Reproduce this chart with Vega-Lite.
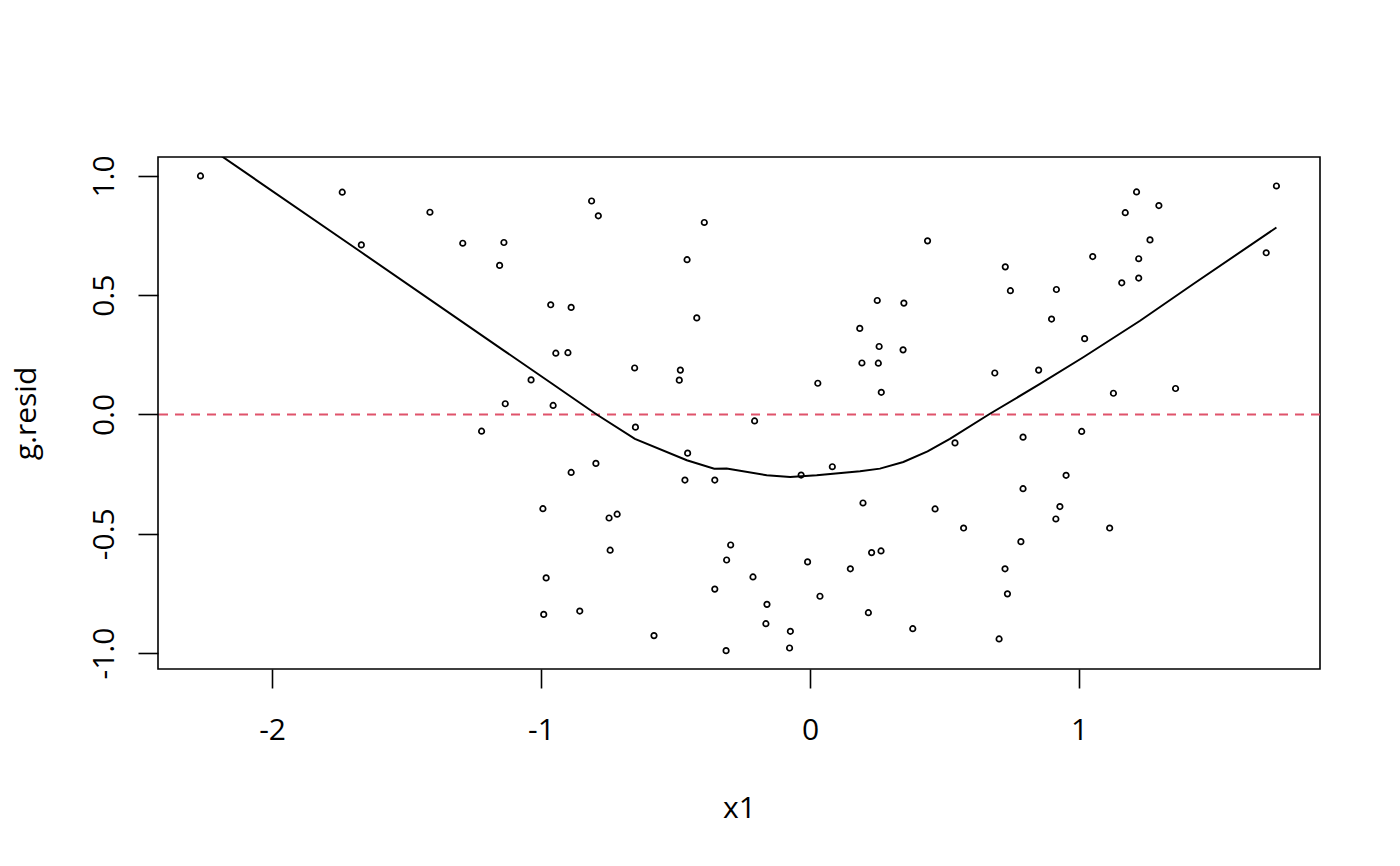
{
  "$schema": "https://vega.github.io/schema/vega-lite/v6.json",
  "autosize": {"type": "none"},
  "padding": {"left": 158, "top": 157, "right": 80, "bottom": 197},
  "width": 1162,
  "height": 512,
  "background": "white",
  "config": {
    "view": {"stroke": "black", "strokeWidth": 1.6},
    "font": "Open Sans",
    "axis": {
      "domain": false,
      "grid": false,
      "tickColor": "black",
      "tickWidth": 1.6,
      "labelColor": "black",
      "labelFont": "Open Sans",
      "labelFontSize": 30,
      "labelFlush": false,
      "labelOverlap": false,
      "titleColor": "black",
      "titleFont": "Open Sans",
      "titleFontSize": 30,
      "titleFontWeight": "normal"
    }
  },
  "datasets": {
    "pts": [
      {"x1": -2.266, "g": 1.000}, {"x1": -1.739, "g": 0.932}, {"x1": -1.413, "g": 0.848}, {"x1": -1.668, "g": 0.711},
      {"x1": -1.291, "g": 0.718}, {"x1": -1.138, "g": 0.721}, {"x1": -1.154, "g": 0.625}, {"x1": -0.964, "g": 0.460},
      {"x1": -0.945, "g": 0.257}, {"x1": -1.037, "g": 0.145}, {"x1": -1.133, "g": 0.045}, {"x1": -0.955, "g": 0.038},
      {"x1": -1.221, "g": -0.070}, {"x1": -0.993, "g": -0.395}, {"x1": -0.981, "g": -0.685}, {"x1": -0.990, "g": -0.838},
      {"x1": -0.888, "g": 0.449}, {"x1": -0.900, "g": 0.259}, {"x1": -0.812, "g": 0.895}, {"x1": -0.787, "g": 0.833},
      {"x1": -0.652, "g": 0.195}, {"x1": -0.393, "g": 0.805}, {"x1": -0.457, "g": 0.649}, {"x1": -0.421, "g": 0.405},
      {"x1": -0.482, "g": 0.186}, {"x1": -0.486, "g": 0.144}, {"x1": 0.437, "g": 0.728}, {"x1": 0.250, "g": 0.478},
      {"x1": 0.349, "g": 0.467}, {"x1": 0.185, "g": 0.361}, {"x1": 0.257, "g": 0.285}, {"x1": 0.346, "g": 0.271},
      {"x1": 0.193, "g": 0.216}, {"x1": 0.254, "g": 0.215}, {"x1": 0.029, "g": 0.131}, {"x1": 0.265, "g": 0.093},
      {"x1": -0.649, "g": -0.053}, {"x1": -0.206, "g": -0.027}, {"x1": -0.455, "g": -0.162}, {"x1": -0.796, "g": -0.205},
      {"x1": -0.888, "g": -0.243}, {"x1": -0.465, "g": -0.275}, {"x1": -0.354, "g": -0.275}, {"x1": -0.033, "g": -0.254},
      {"x1": 0.083, "g": -0.219}, {"x1": 0.197, "g": -0.371}, {"x1": 0.465, "g": -0.396}, {"x1": -0.747, "g": -0.434},
      {"x1": -0.717, "g": -0.418}, {"x1": -0.743, "g": -0.569}, {"x1": -0.295, "g": -0.547}, {"x1": -0.310, "g": -0.610},
      {"x1": -0.212, "g": -0.681}, {"x1": -0.354, "g": -0.732}, {"x1": -0.009, "g": -0.618}, {"x1": 0.150, "g": -0.647},
      {"x1": 0.229, "g": -0.579}, {"x1": 0.264, "g": -0.572}, {"x1": 0.037, "g": -0.762}, {"x1": -0.160, "g": -0.796},
      {"x1": -0.164, "g": -0.877}, {"x1": 0.217, "g": -0.831}, {"x1": -0.856, "g": -0.824}, {"x1": -0.580, "g": -0.927},
      {"x1": -0.073, "g": -0.909}, {"x1": -0.076, "g": -0.979}, {"x1": -0.312, "g": -0.990}, {"x1": 0.382, "g": -0.898},
      {"x1": 0.726, "g": 0.619}, {"x1": 0.745, "g": 0.519}, {"x1": 0.687, "g": 0.174}, {"x1": 0.850, "g": 0.186},
      {"x1": 0.898, "g": 0.400}, {"x1": 0.916, "g": 0.524}, {"x1": 1.021, "g": 0.318}, {"x1": 1.051, "g": 0.662},
      {"x1": 1.128, "g": 0.089}, {"x1": 1.159, "g": 0.552}, {"x1": 1.172, "g": 0.846}, {"x1": 1.214, "g": 0.933},
      {"x1": 1.222, "g": 0.653}, {"x1": 1.222, "g": 0.572}, {"x1": 1.264, "g": 0.732}, {"x1": 1.297, "g": 0.876},
      {"x1": 1.359, "g": 0.109}, {"x1": 1.696, "g": 0.678}, {"x1": 1.734, "g": 0.958}, {"x1": 0.539, "g": -0.119},
      {"x1": 0.792, "g": -0.095}, {"x1": 1.010, "g": -0.071}, {"x1": 0.952, "g": -0.255}, {"x1": 0.792, "g": -0.311},
      {"x1": 0.571, "g": -0.476}, {"x1": 0.929, "g": -0.386}, {"x1": 0.914, "g": -0.438}, {"x1": 1.114, "g": -0.476},
      {"x1": 0.784, "g": -0.533}, {"x1": 0.725, "g": -0.647}, {"x1": 0.734, "g": -0.752}, {"x1": 0.703, "g": -0.941}
    ],
    "smooth": [
      {"x1": -2.266, "g": 1.144}, {"x1": -1.668, "g": 0.680}, {"x1": -1.138, "g": 0.268}, {"x1": -0.964, "g": 0.133},
      {"x1": -0.793, "g": 0.0}, {"x1": -0.651, "g": -0.102}, {"x1": -0.458, "g": -0.192}, {"x1": -0.356, "g": -0.227},
      {"x1": -0.310, "g": -0.226}, {"x1": -0.161, "g": -0.255}, {"x1": -0.074, "g": -0.262}, {"x1": 0.025, "g": -0.255},
      {"x1": 0.186, "g": -0.238}, {"x1": 0.260, "g": -0.227}, {"x1": 0.347, "g": -0.199}, {"x1": 0.437, "g": -0.155},
      {"x1": 0.520, "g": -0.102}, {"x1": 0.669, "g": 0.003}, {"x1": 0.855, "g": 0.128}, {"x1": 1.016, "g": 0.240},
      {"x1": 1.227, "g": 0.393}, {"x1": 1.425, "g": 0.547}, {"x1": 1.734, "g": 0.784}
    ],
    "ref": [{"g": 0}]
  },
  "encoding": {
    "x": {
      "field": "x1", "type": "quantitative",
      "scale": {"domain": [-2.424, 1.896], "nice": false, "zero": false},
      "axis": {
        "title": "x1",
        "values": [-2, -1, 0, 1],
        "format": "d",
        "labelExpr": "replace(datum.label, '−', '-')",
        "tickSize": 19,
        "labelBaseline": "alphabetic",
        "labelPadding": 51,
        "titleX": 581,
        "titleY": 148,
        "titleAlign": "center",
        "titleBaseline": "alphabetic"
      }
    },
    "y": {
      "field": "g", "type": "quantitative",
      "scale": {"domain": [-1.067, 1.0795], "nice": false, "zero": false},
      "axis": {
        "title": "g.resid",
        "values": [-1, -0.5, 0, 0.5, 1],
        "format": ".1f",
        "labelExpr": "replace(datum.label, '−', '-')",
        "tickSize": 20,
        "labelAngle": -90,
        "labelAlign": "center",
        "labelBaseline": "alphabetic",
        "labelPadding": 25,
        "titleAngle": -90,
        "titleX": -123,
        "titleY": 256,
        "titleAlign": "center",
        "titleBaseline": "alphabetic"
      }
    }
  },
  "layer": [
    {
      "data": {"name": "ref"},
      "mark": {"type": "rule", "color": "#DF536B", "strokeWidth": 2, "strokeDash": [9, 7]},
      "encoding": {"y": {"field": "g", "type": "quantitative"}, "x": null}
    },
    {
      "data": {"name": "smooth"},
      "mark": {"type": "line", "color": "black", "strokeWidth": 2, "clip": true},
      "encoding": {"order": {"field": "x1", "type": "quantitative"}}
    },
    {
      "data": {"name": "pts"},
      "mark": {"type": "point", "shape": "circle", "filled": false, "stroke": "black", "strokeWidth": 1.7, "size": 30, "opacity": 1}
    }
  ]
}
